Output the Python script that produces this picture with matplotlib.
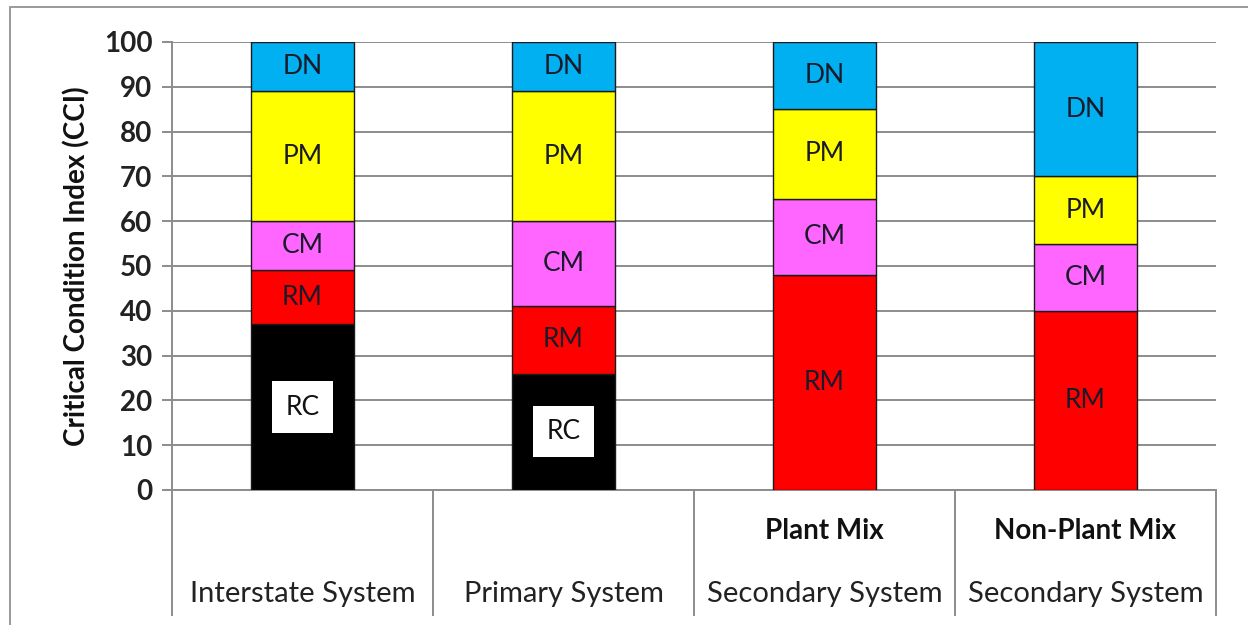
import matplotlib.pyplot as plt
import matplotlib.transforms as mtransforms
from matplotlib.patches import Rectangle
import numpy as np

plt.rcParams['font.family'] = ['Lato', 'DejaVu Sans']

# data
sistemas = ["Interstate System", "Primary System", "Secondary System", "Secondary System"]
subtitulos = ["", "", "Plant Mix", "Non-Plant Mix"]
segmentos = ["RC", "RM", "CM", "PM", "DN"]
rc = [37, 26, 0, 0]
rm = [12, 15, 48, 40]
cm = [11, 19, 17, 15]
pm = [29, 29, 20, 15]
dn = [11, 11, 15, 30]
colores = ["#000000", "#FF0000", "#FF66FF", "#FFFF00", "#00B0F0"]
yticks = [0, 10, 20, 30, 40, 50, 60, 70, 80, 90, 100]

W, H = 1248, 625
fig = plt.figure(figsize=(W / 100, H / 100), dpi=100)

# marco exterior del grafico
fig.patches.append(Rectangle((10 / W, -0.1), 1.2, 1 - 7 / H + 0.1, transform=fig.transFigure,
                             fill=False, edgecolor="#9a9a9a", linewidth=1.4))

ax = fig.add_axes([172 / W, (H - 490) / H, (1216 - 172) / W, 448 / H])

x = np.arange(len(sistemas))
valores = [rc, rm, cm, pm, dn]
base = np.zeros(len(sistemas))
for nombre, vals, col in zip(segmentos, valores, colores):
    vals = np.array(vals, dtype=float)
    ax.bar(x, vals, width=0.395, bottom=base, color=col, edgecolor="#1a1a1a",
           linewidth=1.0, zorder=3)
    for xi, b, v in zip(x, base, vals):
        if v <= 0:
            continue
        if nombre == "RC":
            ax.text(xi, b + v / 2, nombre, ha="center", va="center", fontsize=19,
                    color="#111111", zorder=4,
                    bbox=dict(boxstyle="square,pad=0.5", facecolor="white", edgecolor="none"))
        else:
            ax.text(xi, b + v / 2, nombre, ha="center", va="center", fontsize=19,
                    color="#1a1a2a", zorder=4)
    base += vals

ax.set_xlim(-0.5, len(sistemas) - 0.5)
ax.set_ylim(0, 100)
ax.set_yticks(yticks)
ax.set_yticklabels([str(t) for t in yticks], fontsize=20, fontweight="bold", color="#222222")
ax.tick_params(axis="y", length=7, width=1.4, color="#8c8c8c", pad=7)
ax.set_xticks([])
ax.yaxis.grid(True, color="#8c8c8c", linewidth=1.4, zorder=0)
ax.set_axisbelow(True)

for lado in ["top", "right"]:
    ax.spines[lado].set_visible(False)
for lado in ["left", "bottom"]:
    ax.spines[lado].set_color("#8c8c8c")
    ax.spines[lado].set_linewidth(1.4)

ax.set_ylabel("Critical Condition Index (CCI)", fontsize=20, fontweight="bold",
              color="#111111", labelpad=10)

# eje de categorias de dos niveles
trans = mtransforms.blended_transform_factory(ax.transData, ax.transAxes)
for xs in np.arange(-0.5, len(sistemas), 1.0):
    ax.plot([xs, xs], [0, -0.279], transform=trans, color="#8c8c8c", linewidth=1.4,
            clip_on=False)
for xi, sis, sub in zip(x, sistemas, subtitulos):
    ax.text(xi, -0.232, sis, transform=trans, ha="center", va="center", fontsize=21,
            color="#222222")
    if sub:
        ax.text(xi, -0.092, sub, transform=trans, ha="center", va="center", fontsize=20,
                fontweight="bold", color="#111111")

fig.savefig("out.png", dpi=100)
plt.close(fig)
